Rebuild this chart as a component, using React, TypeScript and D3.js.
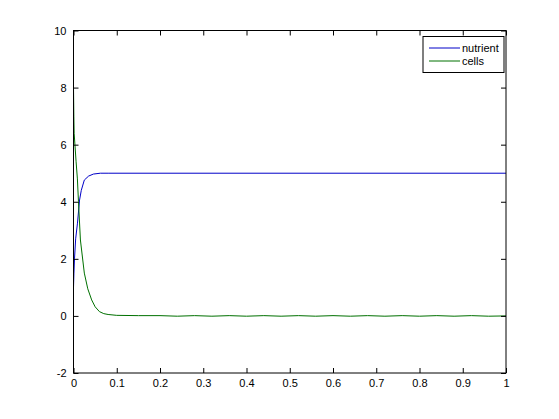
import React, { useEffect, useRef } from 'react';
import * as d3 from 'd3';

// values
const nutrientT = [0, 0.001, 0.0023, 0.005, 0.0092, 0.014, 0.018, 0.025, 0.035, 0.046, 0.062, 0.08, 1];
const nutrientY = [1.0, 1.5, 2.0, 2.7, 3.25, 4.06, 4.4, 4.76, 4.9, 4.97, 5.0, 5.0, 5.0];

const cellsT = [0, 0.0008, 0.0015, 0.006, 0.009, 0.0115, 0.016, 0.025, 0.033, 0.042, 0.05, 0.06, 0.07, 0.08, 0.1, 0.15, 0.2, 0.24, 0.28, 0.32, 0.36, 0.4, 0.44, 0.48, 0.52, 0.56, 0.6, 0.64, 0.68, 0.72, 0.76, 0.8, 0.84, 0.88, 0.92, 0.96, 1];
const cellsY = [8.0, 7.0, 6.4, 5.4, 4.8, 4.0, 2.66, 1.5, 0.95, 0.56, 0.32, 0.15, 0.08, 0.05, 0.02, 0.01, 0.01, -0.01, 0.01, -0.01, 0.01, -0.01, 0.01, -0.01, 0.01, -0.01, 0.01, -0.01, 0.01, -0.01, 0.01, -0.01, 0.01, -0.01, 0.01, -0.01, 0.0];

const xTicks = [0, 0.1, 0.2, 0.3, 0.4, 0.5, 0.6, 0.7, 0.8, 0.9, 1];
const yTicks = [-2, 0, 2, 4, 6, 8, 10];
const seriesNames = ['nutrient', 'cells'];
const seriesColors = ['#0000c8', '#007000'];

const W = 559, H = 419;
const margin = { top: 30.5, right: 53, bottom: 46, left: 73.5 };

const App = () => {
    const ref = useRef<SVGSVGElement>(null);

    useEffect(() => {
        const svg = d3.select(ref.current);
        svg.selectAll('*').remove();
        const iw = W - margin.left - margin.right;
        const ih = H - margin.top - margin.bottom;

        const x = d3.scaleLinear().domain([0, 1]).range([0, iw]);
        const y = d3.scaleLinear().domain([-2, 10]).range([ih, 0]);

        const g = svg.append('g').attr('transform', `translate(${margin.left},${margin.top})`);
        const font = "'Liberation Sans', Arial, sans-serif";

        // series
        const line = d3.line<[number, number]>().x(d => x(d[0])).y(d => y(d[1]));
        const series = [
            d3.zip(nutrientT, nutrientY) as [number, number][],
            d3.zip(cellsT, cellsY) as [number, number][],
        ];
        series.forEach((s, i) => {
            g.append('path')
                .attr('d', line(s))
                .attr('fill', 'none')
                .attr('stroke', seriesColors[i])
                .attr('stroke-width', 1);
        });

        // box
        g.append('rect')
            .attr('width', iw).attr('height', ih)
            .attr('fill', 'none').attr('stroke', '#000').attr('stroke-width', 1);

        // ticks on all four sides, pointing in
        const tl = 5;
        const bottom = g.append('g').attr('transform', `translate(0,${ih})`)
            .call(d3.axisBottom(x).tickValues(xTicks).tickSizeInner(-tl).tickSizeOuter(0).tickPadding(6).tickFormat(d => String(d)));
        g.append('g')
            .call(d3.axisTop(x).tickValues(xTicks).tickSizeInner(-tl).tickSizeOuter(0).tickFormat(() => ''));
        const left = g.append('g')
            .call(d3.axisLeft(y).tickValues(yTicks).tickSizeInner(-tl).tickSizeOuter(0).tickPadding(7).tickFormat(d => String(d)));
        g.append('g').attr('transform', `translate(${iw},0)`)
            .call(d3.axisRight(y).tickValues(yTicks).tickSizeInner(-tl).tickSizeOuter(0).tickFormat(() => ''));

        g.selectAll('.domain').remove();
        g.selectAll('.tick line').attr('stroke', '#000');
        [bottom, left].forEach(a => a.selectAll('text')
            .attr('font-family', font).attr('font-size', 11).attr('fill', '#000'));

        // legend
        const lg = g.append('g').attr('transform', `translate(${iw - 83},6)`);
        lg.append('rect').attr('width', 81).attr('height', 36)
            .attr('fill', '#fff').attr('stroke', '#000').attr('stroke-width', 1);
        seriesNames.forEach((name, i) => {
            const ly = 11.5 + i * 13;
            lg.append('line').attr('x1', 6).attr('x2', 37).attr('y1', ly).attr('y2', ly)
                .attr('stroke', seriesColors[i]).attr('stroke-width', 1);
            lg.append('text').attr('x', 39).attr('y', ly + 4)
                .attr('font-family', font).attr('font-size', 11).attr('fill', '#000')
                .text(name);
        });
    }, []);

    return (
        <div style={{ position: 'absolute', left: 0, top: 0, background: '#fff' }}>
            <svg ref={ref} width={W} height={H} style={{ display: 'block' }}></svg>
        </div>
    );
};

export default App;
